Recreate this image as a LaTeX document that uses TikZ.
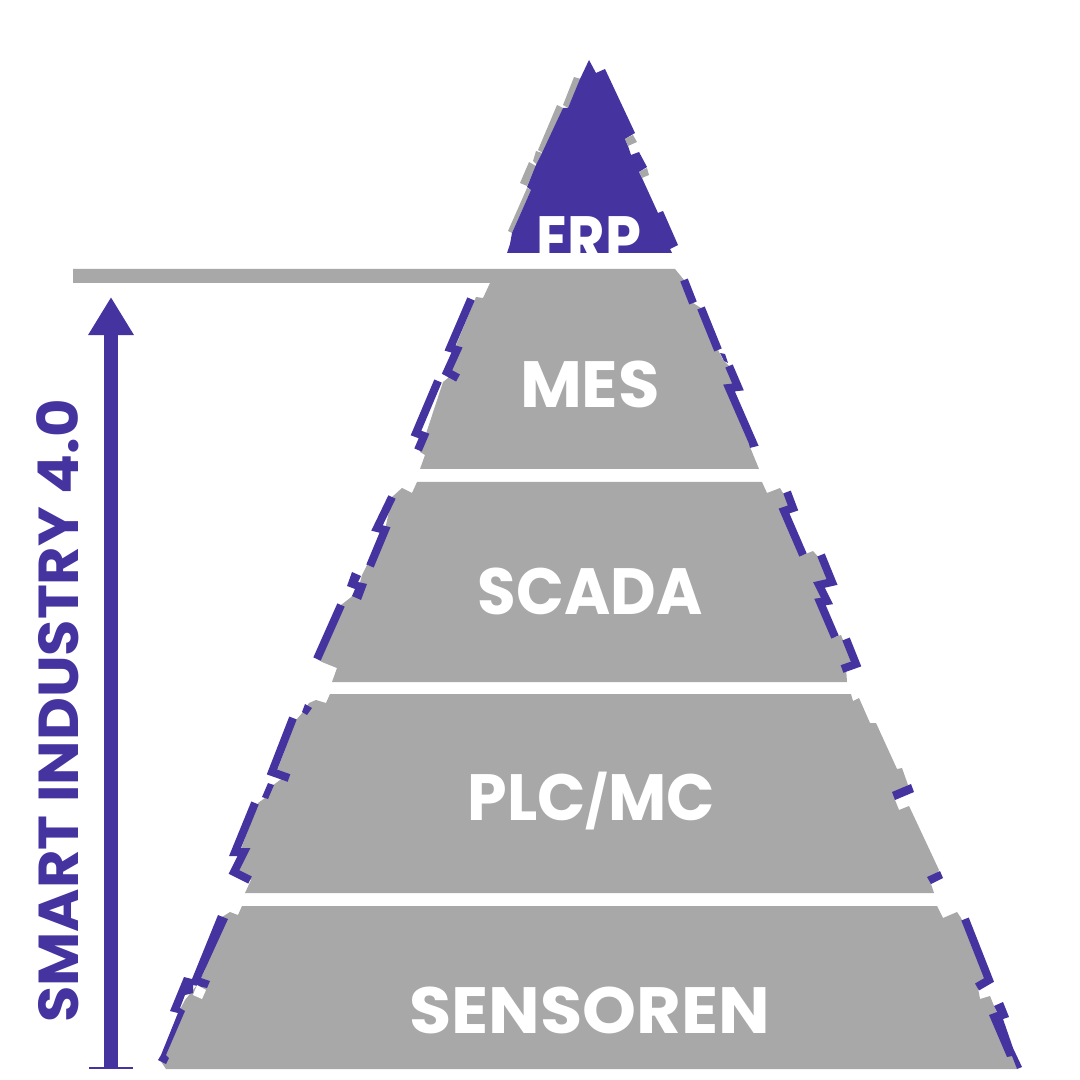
\documentclass[tikz,border=0pt]{standalone}
\usepackage{fontspec}
\setmainfont{Poppins}[BoldFont=Poppins Bold]
\usetikzlibrary{arrows.meta,positioning}
\definecolor{pyrpurple}{RGB}{69,51,160}
\definecolor{pyrgrey}{RGB}{168,168,168}
\tikzset{
	layer/.style={fill=pyrgrey},
	purplepatch/.style={fill=pyrpurple},
	edgepiece/.style={draw=pyrpurple, line width=0.8mm, miter limit=10},
	layerlabel/.style={text=white, font=\bfseries\fontsize{18.6}{20}\selectfont, anchor=base, inner sep=0pt},
}
\begin{document}
\begin{tikzpicture}[x=0.01cm, y=-0.01cm]
		\useasboundingbox (0,0) rectangle (1080,1080);
		% Top layer {{{
		\fill[layer] (508,231) -- (527,188) -- (531,190) -- (512,233) -- cycle;
		\fill[layer] (520,183) -- (529,162) -- (536,166) -- (527,186) -- cycle;
		\fill[layer] (533,161) -- (536,151) -- (542,153) -- (537,165) -- cycle;
		\fill[layer] (538,150) -- (557,105) -- (563,108) -- (543,153) -- cycle;
		\fill[layer] (563,105) -- (574,77) -- (581,79) -- (568,108) -- cycle;
		\fill[purplepatch] (589,60) -- (596,73) -- (605,69) -- (635,133) -- (625,139) -- (628,146)
			-- (631,155) -- (639,152) -- (647,167) -- (639,172) -- (642,178) -- (658,213) -- (663,211)
			-- (678,245) -- (670,249) -- (672,253) -- (507,253) -- (510,244) -- (512,233) -- (531,190)
			-- (527,187) -- (536,165) -- (542,153) -- (563,108) -- (568,108) -- (580,79) -- cycle;
		\fill[layer] (625,139) -- (633,135) -- (637,142) -- (628,146) -- cycle;
		\fill[layer] (639,172) -- (647,168) -- (649,175) -- (642,178) -- cycle;
		% }}}
		% Grey layers {{{
		\fill[layer] (73,269) -- (675,269) -- (684,280) -- (693,303) -- (701,308) -- (718,350) -- (723,360)
			-- (729,366) -- (738,387) -- (729,388) -- (753,443) -- (750,447) -- (759,469) -- (420,469) -- (425,455) -- (420,452)
			-- (443,382) -- (448,378) -- (450,360) -- (476,297) -- (483,298) -- (490,283) -- (73,283) -- cycle;
		\fill[layer] (417,482) -- (762,482) -- (767,493) -- (780,488) -- (787,500) -- (793,508) -- (784,511)
			-- (803,555) -- (813,551) -- (821,560) -- (829,580) -- (821,585) -- (826,601) -- (820,603)
			-- (835,637) -- (841,635) -- (851,660) -- (846,668) -- (847,682) -- (332,682) -- (337,668)
			-- (322,662) -- (317,659) -- (341,605) -- (350,598) -- (358,590) -- (362,575) -- (367,565)
			-- (370,566) -- (385,530) -- (392,497) -- (402,488) -- (412,493) -- cycle;
		\fill[layer] (330,694) -- (851,694) -- (853,701) -- (859,698) -- (870,723) -- (876,723) -- (897,769)
			-- (902,768) -- (908,785) -- (903,788) -- (895,800) -- (899,810) -- (909,806) -- (939,870)
			-- (934,878) -- (931,884) -- (934,893) -- (245,893) -- (251,880) -- (238,872) -- (243,853)
			-- (240,852) -- (258,803) -- (265,798) -- (272,786) -- (284,777) -- (277,771) -- (296,720)
			-- (303,712) -- (309,703) -- (316,700) -- (326,703) -- cycle;
		\fill[layer] (242,906) -- (937,906) -- (943,918) -- (957,912) -- (961,918) -- (988,980) -- (978,988)
			-- (980,999) -- (990,996) -- (994,1006) -- (1009,1040) -- (1017,1069) -- (166,1069) -- (160,1060)
			-- (178,1013) -- (185,1000) -- (197,985) -- (204,972) -- (222,917) -- (230,912) -- (238,915) -- cycle;
		% }}}
		% Purple pieces, left {{{
		\draw[edgepiece] (471,299) -- (450,348) -- (457,350) -- (447,372) -- (458,378);
		\draw[edgepiece] (438,381) -- (416,433) -- (424,436) -- (418,450);
		\draw[edgepiece] (392,497) -- (377,528) -- (385,530) -- (370,566);
		\fill[purplepatch] (352,572) -- (361,576) -- (358,582) -- (367,584) -- (361,600) -- (352,596) -- (355,589) -- (347,586) -- cycle;
		\draw[edgepiece] (341,605) -- (317,659);
		\fill[purplepatch] (305,704) -- (312,708) -- (307,715) -- (302,712) -- cycle;
		\draw[edgepiece] (293,718) -- (272,772) -- (289,778);
		\fill[purplepatch] (268,783) -- (274,785) -- (268,799) -- (262,797) -- cycle;
		\draw[edgepiece] (255,803) -- (235,852) -- (244,852) -- (234,872) -- (250,880);
		\fill[purplepatch] (218,915) -- (228,919) -- (201,978) -- (210,981) -- (207,988) -- (193,985)
			-- (193,993) -- (185,995) -- (180,1008) -- (185,1011) -- (166,1055) -- (169,1058) -- (166,1064)
			-- (158,1060) -- (161,1055) -- (178,1013) -- (170,1011) -- (184,977) -- (192,979) -- cycle;
		\fill[white] (197,985) -- (206,990) -- (202,999) -- (193,995) -- cycle;
		% }}}
		% Purple pieces, right {{{
		\draw[edgepiece] (684,280) -- (693,303);
		\draw[edgepiece] (701,308) -- (718,350);
		\fill[purplepatch] (720,353) -- (725,354) -- (728,363) -- (724,361) -- cycle;
		\draw[edgepiece] (729,366) -- (738,387) -- (729,388) -- (753,443) -- (749,444);
		\draw[edgepiece] (787,492) -- (793,508) -- (784,511) -- (803,555);
		\draw[edgepiece] (821,555) -- (832,582) -- (819,585) -- (827,601) -- (820,602) -- (835,637);
		\draw[edgepiece] (846,639) -- (856,664) -- (842,669);
		\fill[purplepatch] (892,792) -- (911,784) -- (914,792) -- (895,800) -- cycle;
		\fill[purplepatch] (927,877) -- (940,871) -- (943,878) -- (931,884) -- cycle;
		\draw[edgepiece] (965,919) -- (989,980) -- (977,987);
		\fill[purplepatch] (994,1006) -- (1003,1002) -- (1009,1017) -- (1003,1019) -- (1013,1048) -- (1022,1067)
			-- (1017,1069) -- (1012,1056) -- (1007,1057) -- (989,1015) -- (997,1012) -- cycle;
		% }}}
		% Labels {{{
		\node[layerlabel, xscale=0.88] (erp) at (589,263) {ERP};
		\node[layerlabel, xscale=1.03] (mes) at (590,408) {MES};
		\node[layerlabel, xscale=0.96] (scada) at (590,614) {SCADA};
		\node[layerlabel, xscale=0.97] (plcmc) at (591,820) {PLC{\fontsize{14.5}{16}\selectfont/}MC};
		\node[layerlabel, xscale=1.05] (sensoren) at (590,1033) {SENSOREN};
		\node[text=pyrpurple, font=\bfseries\fontsize{16}{18}\selectfont, rotate=90, xscale=1.05, anchor=base, inner sep=0pt] (smart) at (78,711) {SMART INDUSTRY 4.0};
		% }}}
		% Arrow {{{
		\coordinate (arrowfoot) at (111,1069);
		\coordinate (arrowtip) at (111,297);
		\draw[pyrpurple, line width=1.3mm, {Bar[width=4.4mm,line width=0.25mm]}-{Triangle[length=3.8mm,width=4.3mm]}] (arrowfoot) -- (arrowtip);
		% }}}
\end{tikzpicture}
\end{document}
